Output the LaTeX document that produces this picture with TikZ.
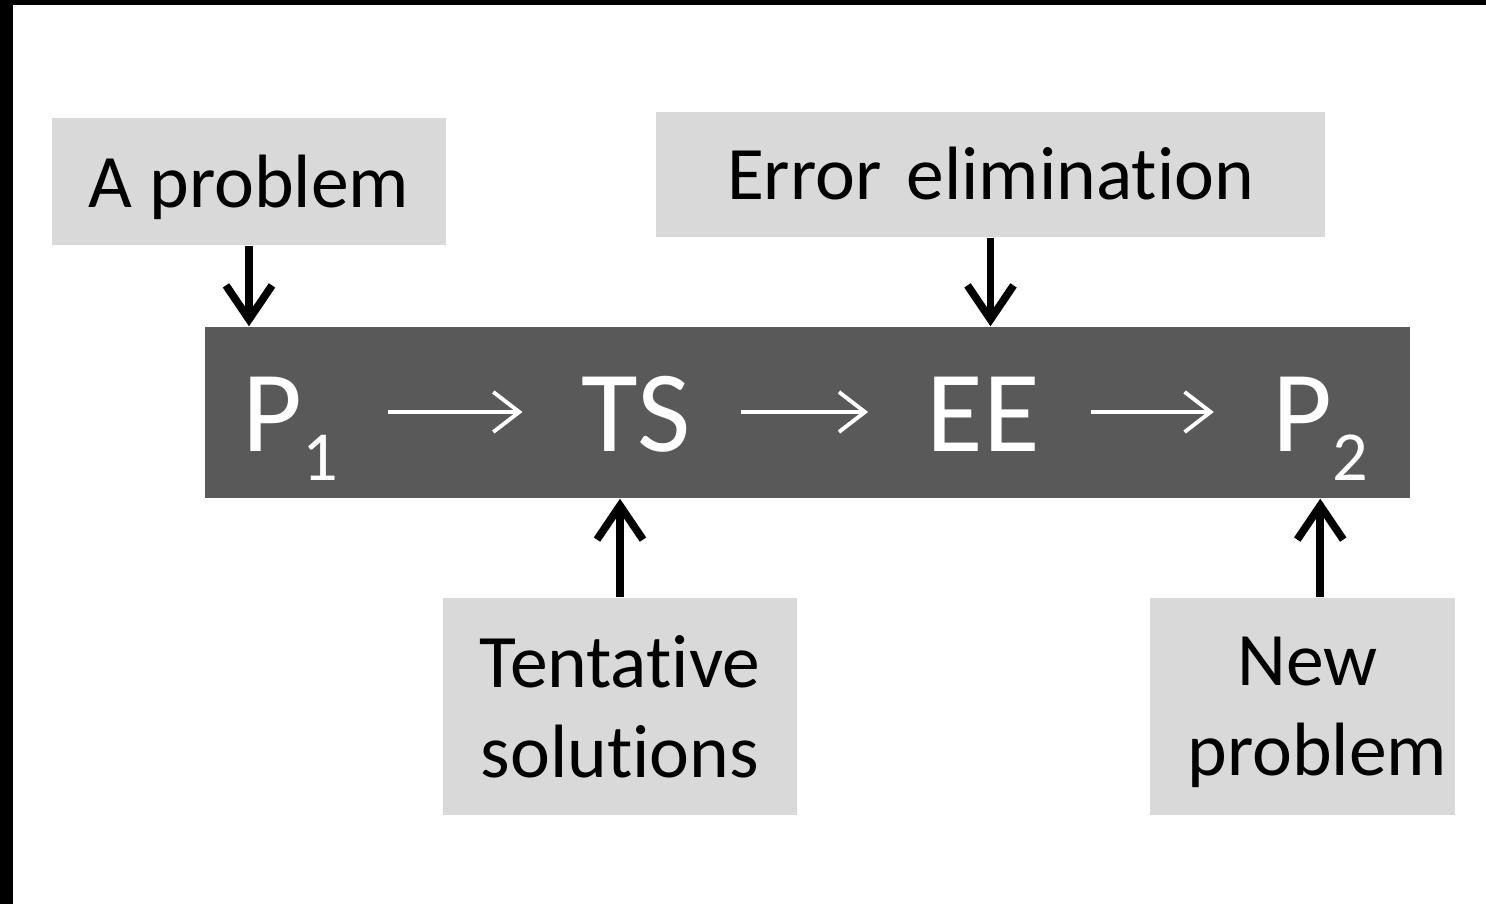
\documentclass[tikz,border=0pt]{standalone}
\usepackage{fontspec}
\setmainfont{Carlito}[Ligatures={NoCommon}]
\usetikzlibrary{arrows.meta,positioning}
\definecolor{barGrey}{HTML}{595959}
\definecolor{boxGrey}{HTML}{D9D9D9}
\newcommand{\LabelFont}{\fontsize{21.5}{25.6}\selectfont}
\newcommand{\StepFont}{\fontsize{33}{38}\selectfont}
\newcommand{\StepSub}[1]{\raisebox{-8pt}{\fontsize{20}{20}\selectfont #1}}
\tikzset{
	labelbox/.style={fill=boxGrey, inner sep=0pt, align=center, font=\LabelFont},
	oneline/.style={text height=15pt, text depth=0pt},
	barbox/.style={fill=barGrey, inner sep=0pt},
	stepname/.style={text=white, inner sep=0pt, font=\StepFont},
	feed/.style={line width=2.2pt, -{Straight Barb[length=3.4mm, width=4.6mm, line width=2.2pt]}},
	flow/.style={white, line width=1.1pt, shorten <=0.5cm, shorten >=0.58cm, -{Straight Barb[length=2.6mm, width=4mm, line width=1.1pt]}},
}

\begin{document}
\begin{tikzpicture}
		\useasboundingbox (0,0) rectangle (14.86,-9.04);
		\fill[black] (0,0) rectangle (14.86,-0.05);
		\fill[black] (0,0) rectangle (0.13,-9.04);

		\node[barbox, minimum width=12.05cm, minimum height=1.71cm] (bar) at (8.075,-4.125) {};
		\coordinate (axis) at (0,-4.12);
		\node[stepname, anchor=base] (p1) at (2.90,-4.52) {P\StepSub{1}};
		\node[stepname, base right=2.42cm of p1] (ts) {TS};
		\node[stepname, base right=2.35cm of ts] (ee) {EE};
		\node[stepname, base right=2.31cm of ee] (p2) {P\StepSub{2}};

		\node[labelbox, oneline, minimum width=3.94cm, minimum height=1.27cm] (prob) at (2.49,-1.815) {A problem};
		\node[labelbox, oneline, text height=14.5pt, minimum width=6.69cm, minimum height=1.25cm] (elim) at (9.905,-1.745) {Error\hspace{0.33em}elimination};
		\node[labelbox, minimum width=3.54cm, minimum height=2.17cm] (tent) at (6.20,-7.065) {Tentative\\\smash{solutions}};
		\node[labelbox, minimum width=3.05cm, minimum height=2.17cm] (newp) at (13.025,-7.065) {\hspace*{0.1cm}New\\\hspace*{0.3cm}\smash{problem}};

		\draw[flow] (p1.east |- axis) -- (ts.west |- axis);
		\draw[flow] (ts.east |- axis) -- (ee.west |- axis);
		\draw[flow] (ee.east |- axis) -- (p2.west |- axis);

		\draw[feed] (prob.south) -- (prob.south |- bar.north);
		\draw[feed] (elim.south) -- (elim.south |- bar.north);
		\draw[feed] (tent.north) -- (tent.north |- bar.south);
		\draw[feed] (p2 |- newp.north) -- (p2 |- bar.south);
	\end{tikzpicture}
\end{document}
